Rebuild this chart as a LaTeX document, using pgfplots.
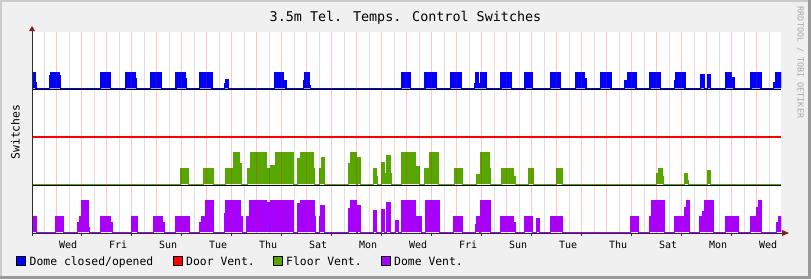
\documentclass[border=0pt]{standalone}
\usepackage{pgfplots}
\pgfplotsset{compat=1.18}
\usepackage{pgfplotstable}
\usepackage{fontspec}
\setmainfont{DejaVu Sans Mono}

\definecolor{bgc}{HTML}{F0F0F0}
\definecolor{shadea}{HTML}{CBCBCB}
\definecolor{shadeb}{HTML}{999999}
\definecolor{dblue}{HTML}{0000FF}
\definecolor{dred}{HTML}{FF0000}
\definecolor{dgreen}{HTML}{58A600}
\definecolor{dpurple}{HTML}{A600FF}
\definecolor{axisc}{HTML}{2C2C2C}
\definecolor{arrowc}{HTML}{7F1F1F}
\definecolor{wmc}{HTML}{A8A8A8}

% Dome closed/opened (x = time position, v = state)
\pgfplotstableread{
t v
32 0
32 1
35 1
35 0.4
36 0.4
36 0
49.5 0
49.5 0.8
50.3 0.8
50.3 1
59.7 1
59.7 0.8
60.5 0.8
60.5 0
100.5 0
100.5 1
110.7 1
110.7 0
125.8 0
125.8 1
135 1
135 0.6
136.7 0.6
136.7 0
150.7 0
150.7 1
161.3 1
161.3 0
176 0
176 1
185 1
185 0.6
186.7 0.6
186.7 0
199.3 0
199.3 1
212 1
212 0
224.3 0
224.3 0.3
225.5 0.3
225.5 0.55
228.3 0.55
228.3 0
274.5 0
274.5 1
283 1
283 0.5
286 0.5
286 0
303.5 0
303.5 0.5
304.5 0.5
304.5 1
309.5 1
309.5 0.2
310.5 0.2
310.5 0
401.7 0
401.7 1
410.7 1
410.7 0
425 0
425 1
436.7 1
436.7 0
450.7 0
450.7 1
461.7 1
461.7 0
474.3 0
474.3 0.3
475.7 0.3
475.7 1
478.7 1
478.7 0.3
481 0.3
481 1
486.3 1
486.3 0
501 0
501 1
511.7 1
511.7 0
525 0
525 1
532.7 1
532.7 0
550.7 0
550.7 1
560.7 1
560.7 0
575.7 0
575.7 1
584.5 1
584.5 0.6
586 0.6
586 0
600.7 0
600.7 1
611 1
611 0
624.7 0
624.7 0.5
627.3 0.5
627.3 1
636 1
636 0
650 0
650 1
660.3 1
660.3 0
674.3 0
674.3 0.5
676 0.5
676 1
685 1
685 0
700.7 0
700.7 0.9
704.3 0.9
704.3 0
707.3 0
707.3 0.85
710.7 0.85
710.7 0
725.7 0
725.7 1
731.5 1
731.5 0.7
734 0.7
734 0
751 0
751 1
761 1
761 0
773.5 0
773.5 0.4
775.3 0.4
775.3 1
781 1
781 0
}\dome

% Door Vent.
\pgfplotstableread{
t v
32 0
781 0
}\door

% Floor Vent.
\pgfplotstableread{
t v
32 0
180 0
180 1
188 1
188 0
203 0
203 1
213 1
213 0
225 0
225 1
233 1
233 2
239.5 2
239.5 1.3
241 1.3
241 0
247.5 0
247.5 1
250.5 1
250.5 2
266.7 2
266.7 1
270.5 1
270.5 1.2
275 1.2
275 2
293.3 2
293.3 0
297.7 0
297.7 1.6
300 1.6
300 2
313.3 2
313.3 1
314.3 1
314.3 0
319.3 0
319.3 1
321 1
321 1.7
324.3 1.7
324.3 0
348.3 0
348.3 1.3
350 1.3
350 2
356 2
356 0
357.3 0
357.3 1.7
360.7 1.7
360.7 0
373.3 0
373.3 1
376 1
376 0.5
377 0.5
377 0
381 0
381 1.35
384 1.35
384 0.7
386 0.7
386 1.8
390 1.8
390 0.7
391.7 0.7
391.7 0
401.7 0
401.7 2
415 2
415 1.1
419 1.1
419 0
424 0
424 1
429 1
429 2
438.3 2
438.3 0
454.3 0
454.3 1
462.3 1
462.3 0
476.7 0
476.7 0.6
480 0.6
480 2
489 2
489 1
490 1
490 0
501 0
501 1
513.3 1
513.3 0.5
515 0.5
515 0
528.3 0
528.3 1
533.3 1
533.3 0
556 0
556 1
562.3 1
562.3 0
656.7 0
656.7 0.7
658.3 0.7
658.3 1
662 1
662 0.5
663 0.5
663 0
684.3 0
684.3 0.65
687.3 0.65
687.3 0.2
688.3 0.2
688.3 0
707.3 0
707.3 0.85
710 0.85
710 0
781 0
}\floor

% Dome Vent.
\pgfplotstableread{
t v
32 0
32 1
36.3 1
36.3 0
55.7 0
55.7 1
63 1
63 0
77.3 0
77.3 0.6
79 0.6
79 1
81.7 1
81.7 2
88.3 2
88.3 0.3
89 0.3
89 0
100.5 0
100.5 1
110.3 1
110.3 0.6
112.7 0.6
112.7 0
131 0
131 1
137.3 1
137.3 0
153.5 0
153.5 1
162.7 1
162.7 0.6
164 0.6
164 0
175 0
175 1
189.3 1
189.3 0
199.3 0
199.3 0.6
201 0.6
201 1
205 1
205 2
213.3 2
213.3 0
224.3 0
224.3 1.2
225.5 1.2
225.5 2
240.7 2
240.7 1
242 1
242 0
246.7 0
246.7 1
249.5 1
249.5 2
266.7 2
266.7 1.9
270.7 1.9
270.7 2
293.3 2
293.3 0
297.7 0
297.7 1.8
300 1.8
300 2
314.3 2
314.3 1
315.5 1
315.5 0
319.3 0
319.3 1
320.7 1
320.7 1.7
324.3 1.7
324.3 0
348.3 0
348.3 1.5
350 1.5
350 2
356 2
356 0
357.3 0
357.3 1.7
360.7 1.7
360.7 0
373.3 0
373.3 1.35
376.7 1.35
376.7 0
381 0
381 1.45
384 1.45
384 0
386 0
386 1.9
390 1.9
390 0
395.5 0
395.5 0.75
398.7 0.75
398.7 0
401.7 0
401.7 2
415.5 2
415.5 1
421.7 1
421.7 0
425 0
425 2
439.3 2
439.3 0
453.3 0
453.3 1
462.3 1
462.3 0
475 0
475 0.5
476.5 0.5
476.5 1
479.3 1
479.3 0
480.5 0
480.5 2
490.5 2
490.5 0
500 0
500 1
513.5 1
513.5 0.6
515 0.6
515 0
524 0
524 1
532.7 1
532.7 0
536.7 0
536.7 0.86
539.3 0.86
539.3 0
550.7 0
550.7 1
562.7 1
562.7 0
630.7 0
630.7 1
638.3 1
638.3 0
649.5 0
649.5 1
651 1
651 2
664.3 2
664.3 0
674.3 0
674.3 1
684.5 1
684.5 1.6
686 1.6
686 2
689 2
689 0
699.3 0
699.3 1
702 1
702 1.3
704 1.3
704 2
713.3 2
713.3 0
725.7 0
725.7 1
738.3 1
738.3 0
750.8 0
750.8 1
756.7 1
756.7 1.6
758 1.6
758 2
761.8 2
761.8 0
776.7 0
776.7 0.6
778 0.6
778 1
781 1
781 0
}\vent

\begin{document}
\begin{tikzpicture}[x=1bp,y=1bp]
\path[use as bounding box] (0,0) rectangle (811,279);
\fill[bgc] (0,0) rectangle (811,279);
\fill[shadea] (0,0) rectangle (2,279);
\fill[shadea] (0,277) rectangle (811,279);
\fill[shadeb] (808,0) rectangle (811,279);
\fill[shadeb] (0,0) rectangle (811,3);

\begin{axis}[
  at={(32,46)}, anchor=south west, scale only axis,
  width=749bp, height=201bp,
  xmin=32, xmax=781, ymin=0, ymax=201,
  axis background/.style={fill=white},
  axis line style={draw=none},
  ytick=\empty,
  xtick pos=lower,
  xtick={68.2,118.2,168.2,218.2,268.2,318.2,368.2,418.2,468.2,518.2,568.2,618.2,668.2,718.2,768.2},
  xticklabels={Wed,Fri,Sun,Tue,Thu,Sat,Mon,Wed,Fri,Sun,Tue,Thu,Sat,Mon,Wed},
  major tick length=0pt,
  xticklabel style={anchor=base, inner sep=0pt, yshift=-15.3bp, font=\fontsize{10bp}{12bp}\selectfont},
  extra x ticks={81.7,131.7,181.7,231.7,281.7,331.7,381.7,431.7,481.7,531.7,581.7,631.7,681.7,731.7},
  extra x tick labels={},
  extra x tick style={major tick length=3bp, tick align=outside, tick style={draw=axisc, line width=1bp}},
]
\draw[black, line width=1bp] (axis cs:32,143.5) -- (axis cs:781,143.5);
\draw[black, line width=0.9bp] (axis cs:32,95.3) -- (axis cs:781,95.3);
\draw[black, line width=1bp] (axis cs:32,48) -- (axis cs:781,48);

\addplot[draw=dblue, fill=dblue, line width=1.1bp] table[x=t, y expr=144.6+15.8*\thisrow{v}] {\dome};
\addplot[draw=dred, fill=dred, line width=1.4bp] table[x=t, y expr=96.1+15.8*\thisrow{v}] {\door};
\addplot[draw=dgreen, fill=dgreen, line width=0.8bp] table[x=t, y expr=49+15.8*\thisrow{v}] {\floor};
\addplot[draw=dpurple, fill=dpurple, line width=0.8bp] table[x=t, y expr=0.8+15.8*\thisrow{v}] {\vent};

\pgfplotsinvokeforeach{44.2,69.2,94.2,119.2,144.2,169.2,194.2,219.2,244.2,269.2,294.2,319.2,344.2,369.2,394.2,419.2,444.2,469.2,494.2,519.2,544.2,569.2,594.2,619.2,644.2,669.2,694.2,719.2,744.2,769.2}{
  \draw[black, opacity=0.12, line width=1bp] (axis cs:#1,0) -- (axis cs:#1,201);
}
\pgfplotsinvokeforeach{56.7,81.7,106.7,131.7,156.7,181.7,206.7,231.7,256.7,281.7,306.7,331.7,356.7,381.7,406.7,431.7,456.7,481.7,506.7,531.7,556.7,581.7,606.7,631.7,656.7,681.7,706.7,731.7,756.7}{
  \draw[red, opacity=0.22, line width=1bp] (axis cs:#1,0) -- (axis cs:#1,201);
}
\end{axis}

% axes with arrows
\draw[axisc, line width=1bp] (32,46) -- (782,46);
\fill[arrowc] (782,43) -- (789,46) -- (782,49) -- cycle;
\draw[axisc, line width=1bp] (32,43) -- (32,248);
\fill[arrowc] (29,248) -- (32,253) -- (35,248) -- cycle;

% title, axis label, watermark
\node[anchor=base, inner sep=0pt] at (405.5,257.7) {\fontsize{13.4bp}{16bp}\selectfont 3.5m Tel. Temps. Control Switches};
\node[rotate=90, anchor=base, inner sep=0pt] at (19.5,147) {\fontsize{11.4bp}{14bp}\selectfont Switches};
\node[rotate=-90, anchor=base, inner sep=0pt, text=wmc] at (797.5,216.5) {\fontsize{8.4bp}{10bp}\selectfont RRDTOOL / TOBI OETIKER};

% legend
\filldraw[fill=dblue, draw=black, line width=0.8bp] (16.5,13.5) rectangle (25.5,22.5);
\node[anchor=base west, inner sep=0pt] at (29.5,14) {\fontsize{11.4bp}{14bp}\selectfont Dome closed/opened};
\filldraw[fill=dred, draw=black, line width=0.8bp] (173,13.5) rectangle (182,22.5);
\node[anchor=base west, inner sep=0pt] at (186,14) {\fontsize{11.4bp}{14bp}\selectfont Door Vent.};
\filldraw[fill=dgreen, draw=black, line width=0.8bp] (273,13.5) rectangle (282,22.5);
\node[anchor=base west, inner sep=0pt] at (286,14) {\fontsize{11.4bp}{14bp}\selectfont Floor Vent.};
\filldraw[fill=dpurple, draw=black, line width=0.8bp] (381,13.5) rectangle (390,22.5);
\node[anchor=base west, inner sep=0pt] at (394,14) {\fontsize{11.4bp}{14bp}\selectfont Dome Vent.};
\end{tikzpicture}
\end{document}
